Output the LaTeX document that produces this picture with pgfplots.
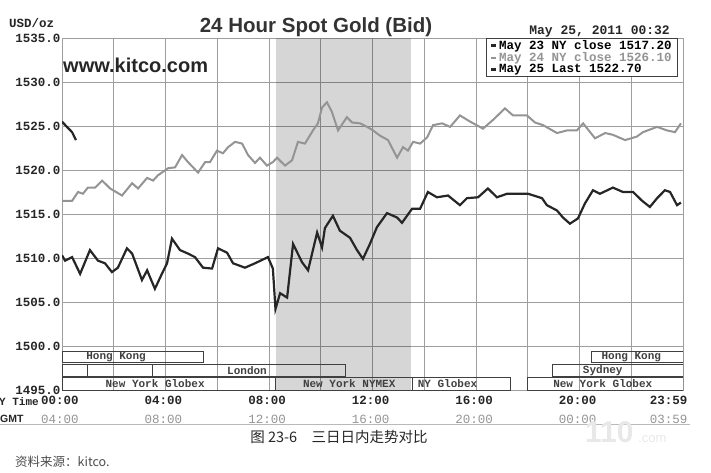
\documentclass[border=0pt]{standalone}
\usepackage{pgfplots}
\pgfplotsset{compat=1.18}
\usepackage{fontspec}
\setmainfont{Liberation Sans}
\newfontfamily\mono{Liberation Mono}
\newfontfamily\cjk{Noto Sans CJK SC}

\definecolor{gridc}{gray}{0.62}
\definecolor{may24}{gray}{0.58}
\definecolor{boxc}{gray}{0.25}

\begin{document}
\begin{tikzpicture}
\useasboundingbox (0pt,0pt) rectangle (711pt,472pt);
\begin{axis}[
    at={(62pt,82pt)}, anchor=south west,
    scale only axis, width=621pt, height=352pt,
    xmin=0, xmax=24, ymin=1495, ymax=1535,
    axis line style={gridc, line width=0.9pt},
    xtick={0,4,8,12,16,20},
    minor xtick={2,6,10,14,18,22},
    xticklabels={
        {00:00\\\textcolor{may24}{\mdseries 04:00}},
        {04:00\\\textcolor{may24}{\mdseries 08:00}},
        {08:00\\\textcolor{may24}{\mdseries 12:00}},
        {12:00\\\textcolor{may24}{\mdseries 16:00}},
        {16:00\\\textcolor{may24}{\mdseries 20:00}},
        {20:00\\\textcolor{may24}{\mdseries 00:00}}},
    extra x ticks={23.983},
    extra x tick labels={{23:59\\\textcolor{may24}{\mdseries 03:59}}},
    extra x tick style={grid=none, xticklabel style={xshift=-12pt}},
    ytick={1495,1500,...,1535},
    yticklabels={1495.0,1500.0,1505.0,1510.0,1515.0,1520.0,1525.0,1530.0,1535.0},
    grid=both,
    major grid style={gridc, line width=0.8pt},
    minor grid style={gridc, line width=0.8pt},
    major tick length=0pt, minor tick length=0pt,
    tick label style={font=\mono\bfseries\fontsize{12.5}{18.5}\selectfont, text=black!85},
    yticklabel style={xshift=2pt},
    xticklabel style={align=center, xshift=-2pt, yshift=-3pt},
    legend style={at={(0.992,1)}, anchor=north east, draw=black!75, line width=0.8pt,
        fill=white, inner xsep=4pt, inner ysep=1pt, row sep=0pt,
        nodes={inner ysep=0.8pt},
        font=\mono\bfseries\fontsize{12.5}{12.5}\selectfont},
    legend cell align=left,
    legend image code/.code={\draw[#1, line width=2.2pt] (0pt,0pt) -- (5pt,0pt);},
]

% NYMEX trading hours, see-through so the grid stays visible
\addplot[fill=black, fill opacity=0.16, draw=none, forget plot]
    coordinates {(8.27,1495) (8.27,1535) (13.5,1535) (13.5,1495)} -- cycle;

% May 23
\addplot[black!85, line width=2.2pt] coordinates {
(0,1510.3)(0.12,1509.7)(0.39,1510.1)(0.70,1508.2)(1.08,1510.9)(1.39,1509.7)
(1.66,1509.4)(1.93,1508.4)(2.16,1508.9)(2.51,1511.1)(2.71,1510.5)(3.09,1507.5)
(3.29,1508.6)(3.59,1506.5)(3.86,1508.2)(4.06,1509.4)(4.25,1512.2)(4.56,1510.9)
(4.87,1510.5)(5.14,1510.1)(5.45,1508.9)(5.80,1508.8)(6.03,1511.1)(6.38,1510.6)
(6.61,1509.4)(7.07,1508.9)(7.46,1509.4)(7.96,1510.1)(8.15,1508.8)(8.25,1504.2)
(8.43,1506.0)(8.70,1505.5)(8.93,1511.6)(9.28,1509.5)(9.51,1508.6)(9.86,1512.9)
(10.05,1511.2)(10.16,1513.4)(10.47,1514.8)(10.74,1513.1)(11.13,1512.3)(11.40,1510.9)
(11.63,1509.9)(11.90,1511.6)(12.17,1513.5)(12.56,1515.1)(12.95,1514.6)(13.14,1514.0)
(13.53,1515.6)(13.84,1515.6)(14.14,1517.5)(14.49,1516.9)(14.92,1517.1)(15.38,1516.0)
(15.65,1516.8)(16.08,1516.9)(16.46,1517.9)(16.81,1516.9)(17.20,1517.3)(18.01,1517.3)
(18.55,1516.8)(18.74,1516.0)(19.13,1515.4)(19.36,1514.6)(19.63,1513.9)(19.94,1514.5)
(20.21,1516.2)(20.52,1517.7)(20.79,1517.3)(21.29,1518.0)(21.68,1517.5)(22.07,1517.5)
(22.42,1516.5)(22.72,1515.8)(23.00,1516.8)(23.30,1517.7)(23.50,1517.5)(23.77,1516.0)
(23.92,1516.3)
};
\addlegendentry{May 23 NY close 1517.20}

% May 24
\addplot[may24, line width=2pt] coordinates {
(0,1516.5)(0.39,1516.5)(0.62,1517.5)(0.81,1517.3)(1.00,1518.0)(1.28,1518.0)
(1.55,1518.8)(1.86,1517.9)(2.32,1517.1)(2.71,1518.5)(2.94,1517.9)(3.29,1519.1)
(3.52,1518.8)(3.71,1519.4)(4.10,1520.2)(4.37,1520.3)(4.64,1521.7)(4.87,1520.9)
(5.26,1519.7)(5.53,1520.9)(5.72,1520.9)(5.99,1522.2)(6.22,1521.9)(6.42,1522.6)
(6.69,1523.2)(6.96,1523.0)(7.19,1521.7)(7.46,1520.8)(7.65,1521.4)(7.92,1520.5)
(8.15,1520.9)(8.31,1521.4)(8.62,1520.5)(8.89,1521.1)(9.12,1523.2)(9.39,1523.0)
(9.70,1524.5)(9.89,1525.3)(10.05,1527.1)(10.24,1527.7)(10.43,1526.6)(10.67,1524.5)
(11.01,1526.0)(11.21,1525.4)(11.52,1525.3)(11.79,1524.9)(12.02,1524.5)(12.29,1523.9)
(12.60,1523.4)(12.95,1521.4)(13.18,1522.6)(13.37,1522.2)(13.57,1523.2)(13.84,1523.0)
(14.11,1523.7)(14.34,1525.1)(14.69,1525.3)(15.00,1524.9)(15.38,1526.2)(15.77,1525.5)
(16.27,1524.7)(16.66,1525.7)(17.12,1527.0)(17.43,1526.2)(17.97,1526.2)(18.28,1525.4)
(18.59,1525.1)(19.13,1524.2)(19.52,1524.5)(19.90,1524.5)(20.14,1525.3)(20.60,1523.6)
(20.99,1524.2)(21.29,1524.0)(21.76,1523.4)(22.22,1523.8)(22.45,1524.3)(23.00,1524.9)
(23.38,1524.5)(23.69,1524.3)(23.92,1525.3)
};
\addlegendentry{\textcolor{may24}{May 24 NY close 1526.10}}

% May 25
\addplot[black!85, line width=2.2pt] coordinates {
(0,1525.5)(0.19,1524.9)(0.39,1524.3)(0.54,1523.4)
};
\addlegendentry{May 25 Last 1522.70}

% trading sessions
\draw[boxc, line width=1pt] (axis cs:0,1498.1) rectangle (axis cs:5.45,1499.4);
\draw[boxc, line width=1pt] (axis cs:20.46,1498.1) rectangle (axis cs:24,1499.4);
\draw[boxc, line width=1pt] (axis cs:0,1496.55) rectangle (axis cs:0.97,1497.95);
\draw[boxc, line width=1pt] (axis cs:0.97,1496.55) rectangle (axis cs:3.48,1497.95);
\draw[boxc, line width=1pt] (axis cs:3.48,1496.55) rectangle (axis cs:10.94,1497.95);
\draw[boxc, line width=1pt] (axis cs:18.97,1496.55) rectangle (axis cs:24,1497.95);
\draw[boxc, line width=1pt] (axis cs:0,1495) rectangle (axis cs:8.27,1496.4);
\draw[boxc, line width=1pt] (axis cs:8.27,1495) rectangle (axis cs:13.53,1496.4);
\draw[boxc, line width=1pt] (axis cs:13.53,1495) rectangle (axis cs:17.35,1496.4);
\draw[boxc, line width=1pt] (axis cs:18.0,1495) rectangle (axis cs:24,1496.4);
\node[font=\mono\bfseries\fontsize{11}{11}\selectfont, text=boxc, inner sep=0pt] at (axis cs:2.09,1498.75) {Hong Kong};
\node[font=\mono\bfseries\fontsize{11}{11}\selectfont, text=boxc, inner sep=0pt] at (axis cs:22.0,1498.75) {Hong Kong};
\node[font=\mono\bfseries\fontsize{11}{11}\selectfont, text=boxc, inner sep=0pt] at (axis cs:7.15,1497.25) {London};
\node[font=\mono\bfseries\fontsize{11}{11}\selectfont, text=boxc, inner sep=0pt] at (axis cs:20.9,1497.25) {Sydney};
\node[font=\mono\bfseries\fontsize{11}{11}\selectfont, text=boxc, inner sep=0pt] at (axis cs:3.6,1495.7) {New York Globex};
\node[font=\mono\bfseries\fontsize{11}{11}\selectfont, text=boxc, inner sep=0pt] at (axis cs:11.1,1495.7) {New York NYMEX};
\node[font=\mono\bfseries\fontsize{11}{11}\selectfont, text=boxc, inner sep=0pt] at (axis cs:14.9,1495.7) {NY Globex};
\node[font=\mono\bfseries\fontsize{11}{11}\selectfont, text=boxc, inner sep=0pt] at (axis cs:20.9,1495.7) {New York Globex};
\end{axis}

% titles and labels around the chart
\node[font=\bfseries\fontsize{20.5}{20.5}\selectfont, text=black!80] at (316pt,445pt) {24 Hour Spot Gold (Bid)};
\node[anchor=west, font=\mono\bfseries\fontsize{12.5}{12.5}\selectfont, text=black!85, inner sep=0pt] at (9pt,449pt) {USD/oz};
\node[anchor=west, font=\bfseries\fontsize{20}{20}\selectfont, text=black!85, inner sep=0pt] at (63pt,407pt) {www.kitco.com};
\node[anchor=east, font=\mono\bfseries\fontsize{13}{13}\selectfont, text=black!85, inner sep=0pt] at (670pt,440pt) {May 25, 2011 00:32};
\node[anchor=east, font=\mono\bfseries\fontsize{11}{11}\selectfont, text=black!85, inner sep=0pt] at (39pt,70pt) {NY Time};
\node[anchor=west, font=\bfseries\fontsize{10.5}{10.5}\selectfont, text=black!85, inner sep=0pt] at (0pt,53pt) {GMT};
\draw[gray!55, line width=0.8pt] (0pt,48pt) -- (690pt,48pt);

% watermark
\node[anchor=west, font=\bfseries\fontsize{30}{30}\selectfont, text=gray!18, inner sep=0pt] at (585pt,40pt) {110};
\node[anchor=west, font=\fontsize{13}{13}\selectfont, text=gray!18, inner sep=0pt] at (638pt,33pt) {.com};

% caption and source
\node[font=\cjk\fontsize{14.5}{14.5}\selectfont, text=black!85] at (339pt,35pt) {图 23-6\quad 三日日内走势对比};
\node[anchor=west, font=\cjk\fontsize{12.5}{12.5}\selectfont, text=black!70, inner sep=0pt] at (15pt,10pt) {资料来源：kitco.};
\end{tikzpicture}
\end{document}
